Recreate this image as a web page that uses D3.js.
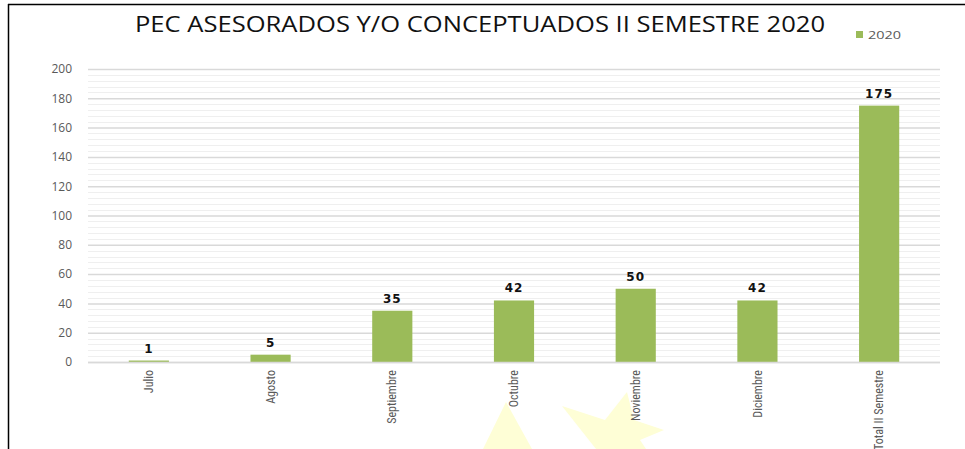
<!DOCTYPE html>
<html>
<head>
<meta charset="utf-8">
<script src="https://cdn.jsdelivr.net/npm/d3@7"></script>
<style>
  html, body { margin: 0; padding: 0; background: #fff; }
  svg { display: block; }
</style>
</head>
<body>
<svg id="chart" width="965" height="449"></svg>
<script>
// Data
const months = ["Julio", "Agosto", "Septiembre", "Octubre", "Noviembre", "Diciembre", "Total II Semestre"];
const values2020 = [1, 5, 35, 42, 50, 42, 175];
const yTicks = [0, 20, 40, 60, 80, 100, 120, 140, 160, 180, 200];
const seriesName = "2020";
const chartTitle = "PEC ASESORADOS Y/O CONCEPTUADOS II SEMESTRE 2020";

const svg = d3.select("#chart");
const W = 965, H = 449;
const m = { left: 88, right: 25, top: 69, bottom: 87 };

const x = d3.scaleBand().domain(months).range([m.left, W - m.right]).paddingInner(0.67).paddingOuter(0.335);
const y = d3.scaleLinear().domain([0, 200]).range([H - m.bottom, m.top]);

// Frame lines
svg.append("line").attr("x1", 8).attr("x2", W).attr("y1", 4.5).attr("y2", 4.5)
  .attr("stroke", "#000").attr("stroke-width", 1.5);
svg.append("line").attr("x1", 8.5).attr("x2", 8.5).attr("y1", 4).attr("y2", H)
  .attr("stroke", "#000").attr("stroke-width", 1.5);

// Minor gridlines every 4 units
const minor = d3.range(4, 200, 4).filter(v => v % 20 !== 0);
svg.append("g").selectAll("line").data(minor).join("line")
  .attr("x1", m.left).attr("x2", W - m.right)
  .attr("y1", d => Math.round(y(d)) + 0.5).attr("y2", d => Math.round(y(d)) + 0.5)
  .attr("stroke", "#efefef").attr("stroke-width", 1);

// Major gridlines + y axis labels
const yAxis = d3.axisLeft(y).tickValues(yTicks).tickSize(-(W - m.left - m.right)).tickPadding(16);
const gy = svg.append("g").attr("transform", `translate(${m.left},0)`).call(yAxis);
gy.select(".domain").remove();
gy.selectAll(".tick line").attr("stroke", "#d9d9d9").attr("stroke-width", 1.5);
gy.selectAll(".tick text").attr("fill", "#595959").style("font-family", "'Open Sans', sans-serif").style("font-size", "12px");

// Decorative pale shapes near the bottom
svg.append("path").attr("d", "M483,449 L506,402 L532,449 Z").attr("fill", "#fefed6");
svg.append("path").attr("d", "M562,406 L605,420 L627,392 L634,420 L664,430 L640,440 L646,449 L596,449 Z").attr("fill", "#fefed6");

// Bars
svg.append("g").selectAll("rect").data(values2020).join("rect")
  .attr("x", (d, i) => x(months[i]))
  .attr("width", x.bandwidth())
  .attr("y", d => y(d))
  .attr("height", d => y(0) - y(d))
  .attr("fill", "#9bbb59");

// Baseline
svg.append("line").attr("x1", m.left).attr("x2", W - m.right)
  .attr("y1", y(0) + 0.5).attr("y2", y(0) + 0.5).attr("stroke", "#d9d9d9").attr("stroke-width", 1.5);

// Value labels
svg.append("g").selectAll("text").data(values2020).join("text")
  .attr("x", (d, i) => x(months[i]) + x.bandwidth() / 2)
  .attr("y", d => y(d) - 8)
  .attr("text-anchor", "middle")
  .attr("fill", "#111")
  .style("font-family", "'DejaVu Sans', sans-serif")
  .style("font-weight", "bold")
  .style("font-size", "12px")
  .style("letter-spacing", "1px")
  .text(d => d);

// X axis labels, rotated
const xAxis = d3.axisBottom(x).tickSize(0).tickPadding(0);
const gx = svg.append("g").attr("transform", `translate(0,${y(0)})`).call(xAxis);
gx.select(".domain").remove();
gx.selectAll(".tick text")
  .attr("transform", "rotate(-90)")
  .attr("x", -8).attr("y", 0).attr("dy", "0.35em")
  .attr("text-anchor", "end")
  .attr("fill", "#595959")
  .style("font-family", "'Liberation Sans Narrow', 'Roboto Condensed', sans-serif")
  .style("font-size", "12px");

// Title
svg.append("text").attr("x", 480).attr("y", 32).attr("text-anchor", "middle")
  .attr("fill", "#111")
  .attr("textLength", 690).attr("lengthAdjust", "spacingAndGlyphs")
  .style("font-family", "'Open Sans', sans-serif").style("font-size", "21px")
  .text(chartTitle);

// Legend
svg.append("rect").attr("x", 856).attr("y", 31).attr("width", 7).attr("height", 7).attr("fill", "#9bbb59");
svg.append("text").attr("x", 868).attr("y", 38.5).attr("fill", "#595959")
  .attr("textLength", 33).attr("lengthAdjust", "spacingAndGlyphs")
  .style("font-family", "'Open Sans', sans-serif").style("font-size", "11.5px")
  .text(seriesName);
</script>
</body>
</html>
